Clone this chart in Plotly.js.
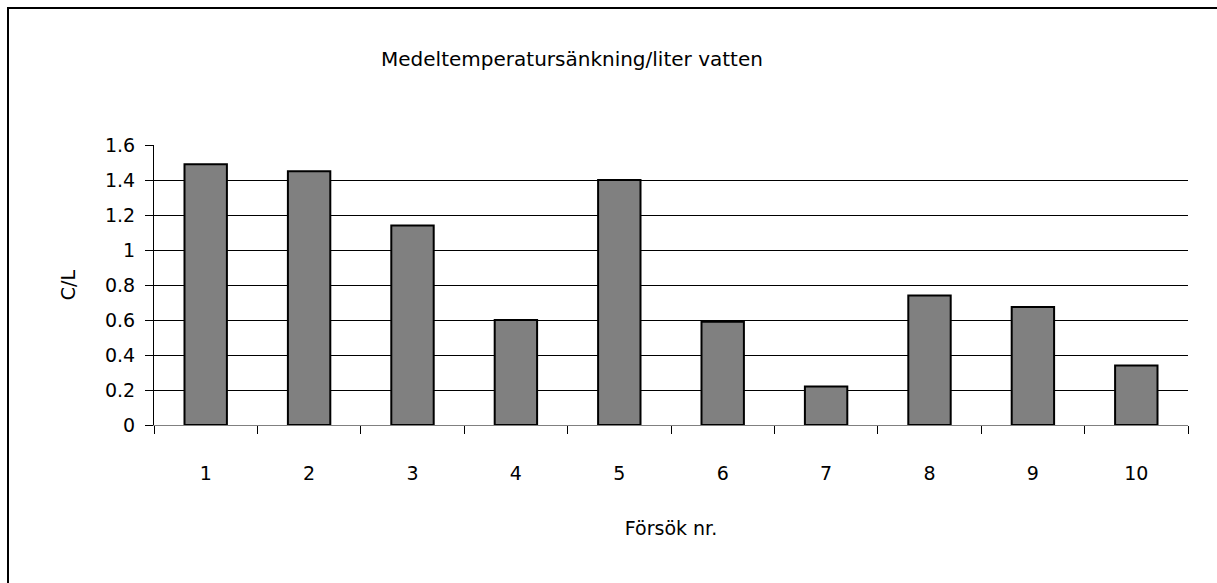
<!DOCTYPE html>
<html>
<head>
<meta charset="utf-8">
<script src="https://cdn.plot.ly/plotly-3.0.1.min.js"></script>
<style>
  html, body { margin: 0; padding: 0; background: #fff; }
  #frame { position: absolute; left: 7px; top: 7px; width: 1210px; height: 576px;
           border-left: 2px solid #000; border-top: 2px solid #000; box-sizing: border-box; }
  #chart { position: absolute; left: 0; top: 0; width: 1217px; height: 583px; }
</style>
</head>
<body>
<div id="chart"></div>
<div id="frame"></div>
<script>
// Average temperature drop per litre of water, one bar per trial
const trials = ['1', '2', '3', '4', '5', '6', '7', '8', '9', '10'];
const dropPerLitre = [1.49, 1.45, 1.14, 0.60, 1.40, 0.59, 0.22, 0.74, 0.675, 0.34];
const yTicks = [0, 0.2, 0.4, 0.6, 0.8, 1, 1.2, 1.4, 1.6];
const yTickLabels = ['0', '0.2', '0.4', '0.6', '0.8', '1', '1.2', '1.4', '1.6'];

const font = { family: 'DejaVu Sans, Verdana, sans-serif', size: 19, color: '#000' };

const trace = {
  type: 'bar',
  x: trials,
  y: dropPerLitre,
  marker: { color: '#808080', line: { color: '#000', width: 2 } },
  hoverinfo: 'x+y'
};

const layout = {
  width: 1217,
  height: 583,
  margin: { l: 154, r: 29, t: 145, b: 158 },
  paper_bgcolor: '#fff',
  plot_bgcolor: '#fff',
  font: font,
  showlegend: false,
  bargap: 0.59,
  title: {
    text: 'Medeltemperatursänkning/liter vatten',
    font: { family: font.family, size: 20, color: '#000' },
    xref: 'container', yref: 'container',
    x: 0.47, y: 1 - 59 / 583, xanchor: 'center', yanchor: 'middle'
  },
  xaxis: {
    type: 'category',
    tickson: 'boundaries',
    ticks: 'outside',
    ticklen: 8,
    tickcolor: '#000',
    tickwidth: 1,
    ticklabelstandoff: 31,
    showgrid: false,
    showline: true,
    linecolor: '#808080',
    linewidth: 1,
    tickfont: font,
    title: { text: 'Försök nr.', font: font, standoff: 38 }
  },
  yaxis: {
    range: [0, 1.6],
    tickvals: yTicks,
    ticktext: yTickLabels,
    ticks: 'outside',
    ticklen: 8,
    tickcolor: '#000',
    ticklabelstandoff: 6,
    showgrid: true,
    gridcolor: '#000',
    gridwidth: 1,
    zeroline: false,
    showline: true,
    linecolor: '#000',
    linewidth: 1,
    tickfont: font,
    title: { text: 'C/L', font: font, standoff: 24 }
  }
};

Plotly.newPlot('chart', [trace], layout, { displayModeBar: false, staticPlot: true });
</script>
</body>
</html>
